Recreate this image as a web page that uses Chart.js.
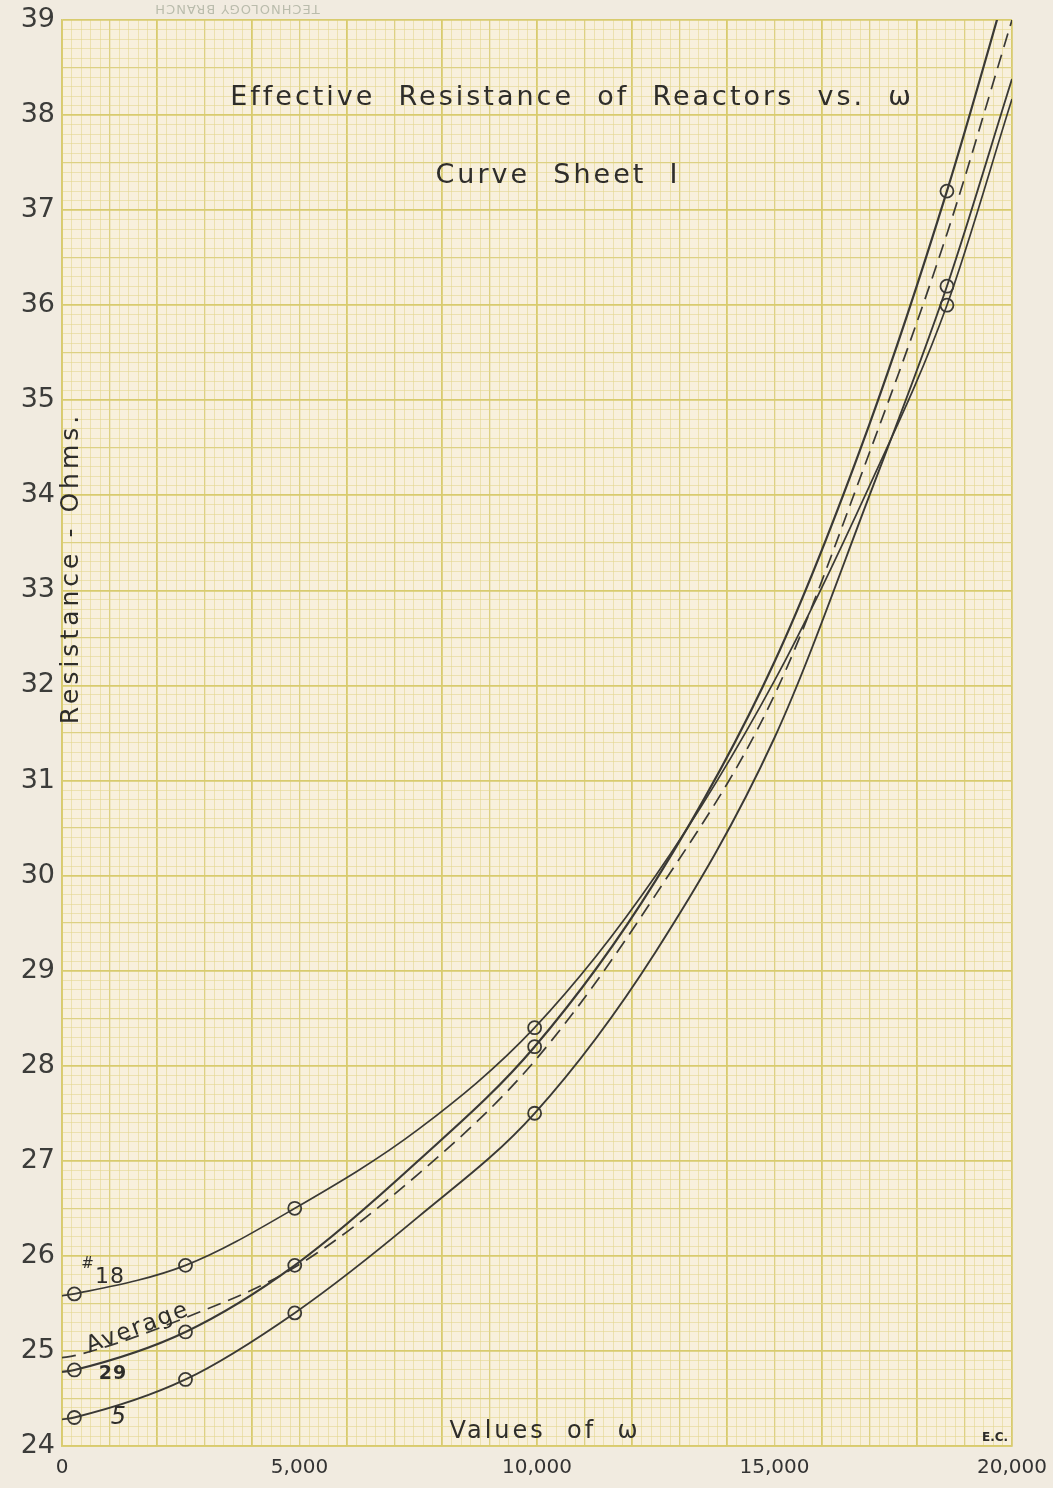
<!DOCTYPE html>
<html>
<head>
<meta charset="utf-8">
<title>Effective Resistance of Reactors vs. ω</title>
<script src="https://cdn.jsdelivr.net/npm/chart.js@4.4.1/dist/chart.umd.min.js"></script>
<style>
  html, body { margin: 0; padding: 0; background: #f1ebe0; }
  #wrap { width: 1053px; height: 1488px; position: relative; }
</style>
</head>
<body>
<div id="wrap"><canvas id="resChart"></canvas></div>
<script>
/* --------------- Values ---------------------------------------------- */
const omega = [0, 260, 2600, 4900, 7500, 9950, 12500, 15000, 17000, 18630, 20000];
const reactor18 = [25.58, 25.6, 25.9, 26.5, 27.33, 28.4, 30.0, 32.05, 34.1, 36.0, 38.17];
const reactor29 = [24.78, 24.8, 25.2, 25.9, 27.0, 28.2, 29.95, 32.25, 34.75, 37.2, 39.55];
const reactor5 = [24.28, 24.3, 24.7, 25.4, 26.41, 27.5, 29.2, 31.45, 34.0, 36.2, 38.38];
const average = [24.93, 24.95, 25.35, 25.88, 26.86, 28.05, 29.8, 31.9, 34.45, 36.75, 39.0];
// positions in omega[] of the measured points, drawn as little circles
const measured = [1, 2, 3, 5, 9];
/* --------------- Tick labels --------------------- */
const xLabels = [0, 5000, 10000, 15000, 20000];
const yMin = 24;
const yMax = 39;

const ink = "#3a3935";
const toPoints = (vals) => vals.map((v, i) => ({ x: omega[i], y: v }));

// graph paper: a heavy line every 10 squares, a lighter one every 5
function gridStyle(ctx, every) {
  const v = ctx.tick.value / every;
  const near = (a) => Math.abs(a - Math.round(a)) < 1e-6;
  if (near(v / 10)) return { c: "#d8cb6e", w: 1.8 };
  if (near(v / 5)) return { c: "#ddd183", w: 1.3 };
  return { c: "rgba(226,214,140,0.7)", w: 0.8 };
}

/* --------------- Paper + lettering --------------------- */
const sheetPlugin = {
  id: "sheet",
  beforeDraw(chart) {
    const { ctx, chartArea: a } = chart;
    ctx.save();
    ctx.fillStyle = "#f8f0dc";
    ctx.fillRect(a.left, a.top, a.right - a.left, a.bottom - a.top);
    ctx.restore();
  },
  afterDraw(chart) {
    const ctx = chart.ctx;
    ctx.save();
    ctx.fillStyle = "#2e2d2a";
    ctx.textBaseline = "middle";
    ctx.textAlign = "center";

    ctx.font = "27px 'DejaVu Sans'";
    ctx.letterSpacing = "3px";
    ctx.fillText("Effective  Resistance  of  Reactors  vs.  ω", 572, 98);
    ctx.fillText("Curve  Sheet  I", 558, 176);

    ctx.font = "24px 'DejaVu Sans'";
    ctx.fillText("Values  of  ω", 545, 1432);

    ctx.save();
    ctx.translate(71, 568);
    ctx.rotate(-Math.PI / 2);
    ctx.font = "25px 'DejaVu Sans'";
    ctx.letterSpacing = "4px";
    ctx.fillText("Resistance - Ohms.", 0, 0);
    ctx.restore();

    // curve names
    ctx.letterSpacing = "1px";
    ctx.font = "15px 'DejaVu Sans'";
    ctx.fillText("#", 88, 1264);
    ctx.font = "22px 'DejaVu Sans'";
    ctx.fillText("18", 110, 1277);
    ctx.font = "bold 19px 'DejaVu Sans'";
    ctx.fillText("29", 113, 1374);
    ctx.font = "italic 24px 'DejaVu Sans'";
    ctx.fillText("5", 119, 1418);

    ctx.save();
    ctx.translate(138, 1328);
    ctx.rotate(-0.36);
    ctx.font = "23px 'DejaVu Sans'";
    ctx.letterSpacing = "2px";
    ctx.fillText("Average", 0, 0);
    ctx.restore();

    ctx.letterSpacing = "0px";
    ctx.font = "bold 12px 'DejaVu Sans'";
    ctx.fillText("E.C.", 995, 1438);

    // printer's imprint, upside down at the top edge
    ctx.save();
    ctx.translate(237, 8);
    ctx.rotate(Math.PI);
    ctx.fillStyle = "rgba(140,150,130,0.55)";
    ctx.font = "13px 'DejaVu Sans'";
    ctx.letterSpacing = "1px";
    ctx.fillText("TECHNOLOGY BRANCH", 0, 0);
    ctx.restore();

    ctx.restore();
  },
};

const curve = (label, vals, extra) =>
  Object.assign(
    {
      label: label,
      data: toPoints(vals),
      borderColor: ink,
      borderWidth: 2,
      cubicInterpolationMode: "monotone",
      pointRadius: (c) => (measured.includes(c.dataIndex) ? 6.5 : 0),
      pointBorderWidth: 1.8,
      pointBorderColor: ink,
      pointBackgroundColor: "rgba(0,0,0,0)",
      fill: false,
    },
    extra
  );

new Chart(document.getElementById("resChart"), {
  type: "line",
  plugins: [sheetPlugin],
  data: {
    datasets: [
      curve("Average", average, { borderDash: [14, 8], borderWidth: 1.7, pointRadius: 0 }),
      curve("#18", reactor18, { borderWidth: 1.7 }),
      curve("29", reactor29, { borderWidth: 2.2 }),
      curve("5", reactor5, { borderWidth: 1.9 }),
    ],
  },
  options: {
    responsive: true,
    maintainAspectRatio: false,
    animation: false,
    layout: { padding: { top: 20, right: 41, left: 0, bottom: 0 } },
    plugins: { legend: { display: false }, tooltip: { enabled: false } },
    scales: {
      x: {
        type: "linear",
        min: 0,
        max: 20000,
        afterFit: (s) => {
          s.height = 42;
          s.paddingLeft = 0;
          s.paddingRight = 0;
        },
        border: { color: "#d8cb6e", width: 1.8 },
        grid: {
          drawTicks: false,
          color: (c) => gridStyle(c, 200).c,
          lineWidth: (c) => gridStyle(c, 200).w,
        },
        ticks: {
          stepSize: 200,
          autoSkip: false,
          maxRotation: 0,
          padding: 10,
          color: "#333",
          font: { family: "'DejaVu Sans'", size: 20 },
          callback: (v) => (xLabels.includes(v) ? v.toLocaleString("en-US") : ""),
        },
      },
      y: {
        type: "linear",
        min: yMin,
        max: yMax,
        afterFit: (s) => {
          s.width = 62;
          s.paddingTop = 0;
          s.paddingBottom = 0;
        },
        border: { color: "#d8cb6e", width: 1.8 },
        grid: {
          drawTicks: false,
          color: (c) => gridStyle(c, 0.1).c,
          lineWidth: (c) => gridStyle(c, 0.1).w,
        },
        ticks: {
          stepSize: 0.1,
          autoSkip: false,
          padding: 7,
          color: "#3c3c3a",
          font: { family: "'DejaVu Sans'", size: 27 },
          callback: (v) => (Math.abs(v - Math.round(v)) < 1e-6 ? String(Math.round(v)) : ""),
        },
      },
    },
  },
});
</script>
</body>
</html>
